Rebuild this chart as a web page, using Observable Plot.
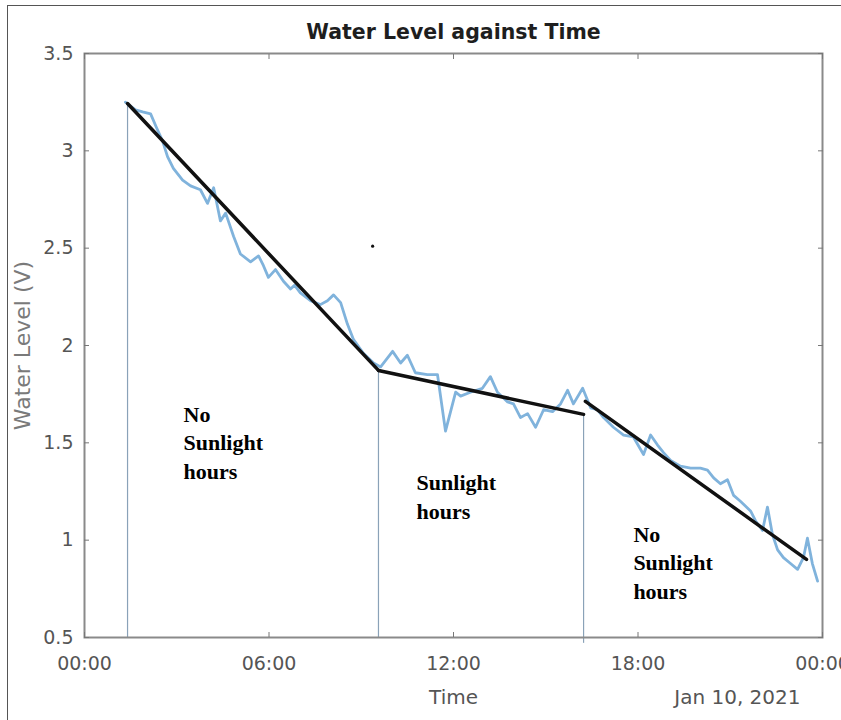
<!DOCTYPE html>
<html><head><meta charset="utf-8">
<script src="https://cdn.jsdelivr.net/npm/d3@7"></script>
<script src="https://cdn.jsdelivr.net/npm/@observablehq/plot@0.6"></script>
<style>
body{margin:0;background:#fff;}
#wrap{position:relative;width:841px;height:720px;overflow:hidden;}
#border{position:absolute;left:7px;top:5px;width:900px;height:800px;border:1.5px solid #555;pointer-events:none;}
</style></head><body><div id="wrap"><div id="border"></div></div>
<script>
// Measured water level (hours since 00:00, volts)
const hours = [1.33,1.66,1.89,2.15,2.34,2.54,2.70,2.89,3.19,3.45,3.77,4.00,4.20,4.42,4.59,4.85,5.07,5.40,5.66,5.82,5.98,6.21,6.47,6.70,6.83,7.02,7.35,7.67,7.90,8.10,8.33,8.55,8.75,9.07,9.40,9.63,10.02,10.28,10.50,10.76,11.15,11.48,11.74,12.07,12.23,12.55,12.94,13.20,13.43,13.76,13.95,14.18,14.41,14.67,14.93,15.22,15.48,15.71,15.90,16.20,16.46,16.68,16.88,17.20,17.53,17.85,18.18,18.41,18.63,18.83,19.06,19.38,19.71,20.03,20.26,20.46,20.68,20.91,21.11,21.33,21.66,21.82,22.05,22.21,22.37,22.54,22.73,22.96,23.19,23.38,23.51,23.67,23.84];
const level = [3.25,3.21,3.20,3.19,3.12,3.05,2.97,2.91,2.85,2.82,2.80,2.73,2.81,2.64,2.68,2.56,2.47,2.43,2.46,2.41,2.35,2.39,2.33,2.29,2.31,2.27,2.23,2.21,2.23,2.26,2.22,2.11,2.03,1.96,1.91,1.89,1.97,1.91,1.95,1.86,1.85,1.85,1.56,1.76,1.74,1.76,1.78,1.84,1.76,1.71,1.70,1.63,1.65,1.58,1.67,1.66,1.70,1.77,1.70,1.78,1.68,1.67,1.63,1.58,1.54,1.53,1.44,1.54,1.49,1.45,1.41,1.38,1.37,1.37,1.36,1.32,1.29,1.31,1.23,1.20,1.15,1.10,1.05,1.17,1.03,0.95,0.91,0.88,0.85,0.91,1.01,0.88,0.79];

// Linear fit segments
const fitSegment = [1,1,2,2,3,3];
const fitHours = [1.40,9.56,9.56,16.23,16.29,23.48];
const fitLevel = [3.243,1.872,1.872,1.646,1.713,0.901];

// Period boundary rules
const boundaryHours = [1.40,9.56,16.23];
const boundaryTop = [3.243,1.872,1.646];
const boundaryBottom = [0.5,0.5,0.47];

// Annotations
const annotHours = [3.22,10.80,17.85];
const annotLevel = [1.712,1.362,1.097];
const annotLabels = ["No\nSunlight\nhours","Sunlight\nhours","No\nSunlight\nhours"];

// Stray mark in the picture
const strayHours = [9.37];
const strayLevel = [2.51];

// Ticks
const xTicks = [0,6,12,18,24];
const xTickLabels = ["00:00","06:00","12:00","18:00","00:00"];
const yTicks = [0.5,1,1.5,2,2.5,3,3.5];
const yTickLabels = ["0.5","1","1.5","2","2.5","3","3.5"];

const data = hours.map((t,i)=>({t, v: level[i]}));
const fits = fitHours.map((t,i)=>({t, v: fitLevel[i], seg: fitSegment[i]}));
const bounds = boundaryHours.map((t,i)=>({t, top: boundaryTop[i], bottom: boundaryBottom[i]}));
const annots = annotHours.map((t,i)=>({t, v: annotLevel[i], label: annotLabels[i]}));
const stray = strayHours.map((t,i)=>({t, v: strayLevel[i]}));

const chart = Plot.plot({
  width: 841, height: 720,
  marginLeft: 84, marginRight: 19, marginTop: 53, marginBottom: 83,
  style: {fontFamily: "DejaVu Sans", background: "transparent", overflow: "visible"},
  x: {domain: [0,24], axis: null},
  y: {domain: [0.5,3.5], axis: null},
  marks: [
    Plot.ruleX(bounds, {x: "t", y1: "bottom", y2: "top", stroke: "#8aa2b8", strokeWidth: 1.2}),
    Plot.line(data, {x: "t", y: "v", stroke: "#80b3dc", strokeWidth: 2.8}),
    Plot.line(fits, {x: "t", y: "v", z: "seg", stroke: "#111", strokeWidth: 3.5}),
    Plot.dot(stray, {x: "t", y: "v", r: 1.6, fill: "#111"}),
    Plot.text(annots, {x: "t", y: "v", text: "label", textAnchor: "start", lineAnchor: "top",
      fontFamily: "Liberation Serif", fontWeight: "bold", fontSize: 22, lineHeight: 1.3, fill: "#000"}),
    Plot.frame({stroke: "#8a8a8a", strokeWidth: 2}),
    Plot.axisX({anchor: "bottom", ticks: xTicks, tickFormat: d => xTickLabels[xTicks.indexOf(d)],
      tickSize: -5, tickPadding: 24, fontSize: 19, stroke: "#777", fill: "#555", label: null}),
    Plot.axisX({anchor: "top", ticks: xTicks, tickFormat: () => "", tickSize: -5, stroke: "#777", label: null}),
    Plot.axisY({anchor: "left", ticks: yTicks, tickFormat: d => yTickLabels[yTicks.indexOf(d)],
      tickSize: -5, tickPadding: 16, fontSize: 19, stroke: "#777", fill: "#555", label: null}),
    Plot.axisY({anchor: "right", ticks: yTicks, tickFormat: () => "", tickSize: -5, stroke: "#777", label: null}),
    Plot.text(["Water Level against Time"], {frameAnchor: "top", lineAnchor: "middle", dy: -21, fontSize: 20.5, fontWeight: "bold", fill: "#1e1e1e"}),
    Plot.text(["Water Level (V)"], {frameAnchor: "left", textAnchor: "middle", lineAnchor: "middle", rotate: -90, dx: -62, fontSize: 22, fill: "#7a7a7a"}),
    Plot.text(["Time"], {frameAnchor: "bottom", lineAnchor: "middle", dy: 60, fontSize: 20, fill: "#555"}),
    Plot.text(["Jan 10, 2021"], {frameAnchor: "bottom-right", textAnchor: "end", lineAnchor: "middle", dx: -22, dy: 60, fontSize: 20, fill: "#555"})
  ]
});
chart.style.position = "absolute";
chart.style.left = "0";
chart.style.top = "0";
document.getElementById("wrap").appendChild(chart);
</script>
</body></html>
